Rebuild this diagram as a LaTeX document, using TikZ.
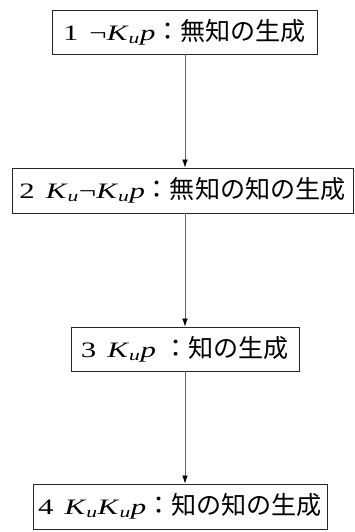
\documentclass[tikz,border=0pt]{standalone}
\usepackage{fontspec}
\setmainfont{Liberation Serif}[FakeStretch=1.4]
\newfontfamily\cjk{Noto Sans CJK JP}[Scale=1.14]
\usetikzlibrary{arrows.meta}
\tikzset{
  stage/.style={draw=black!85, line width=0.8pt, inner sep=0pt, align=center,
    font=\fontsize{22}{26}\selectfont},
  flow/.style={draw=black!60, line width=0.6pt, -{Latex[length=8pt,width=5.5pt,color=black]}}
}
\newcommand{\Ku}{\textit{K}\textsubscript{\textit{u}}}
\newcommand{\gapsp}{\hspace{11pt}}
\begin{document}
\begin{tikzpicture}[x=1pt,y=1pt]
\useasboundingbox (0,0) rectangle (355,532);
\node[stage, minimum width=265pt, minimum height=44pt] (s1) at (184.5,500)
  {1\gapsp¬\Ku\textit{p}{\cjk ：無知の生成}};
\node[stage, minimum width=341pt, minimum height=45pt] (s2) at (182.5,341.5)
  {2\gapsp\Ku¬\Ku\textit{p}{\cjk ：無知の知の生成}};
\node[stage, minimum width=228pt, minimum height=44pt] (s3) at (185,183)
  {3\gapsp\Ku\textit{p}\ {\cjk ：知の生成}};
\node[stage, minimum width=294pt, minimum height=45pt] (s4) at (180,25.5)
  {4\gapsp\Ku\Ku\textit{p}{\cjk ：知の知の生成}};
\draw[flow] (s1.south -| 185,0) -- (s2.north -| 185,0);
\draw[flow] (s2.south -| 185,0) -- (s3.north -| 185,0);
\draw[flow] (s3.south -| 185,0) -- (s4.north -| 185,0);
\end{tikzpicture}
\end{document}
